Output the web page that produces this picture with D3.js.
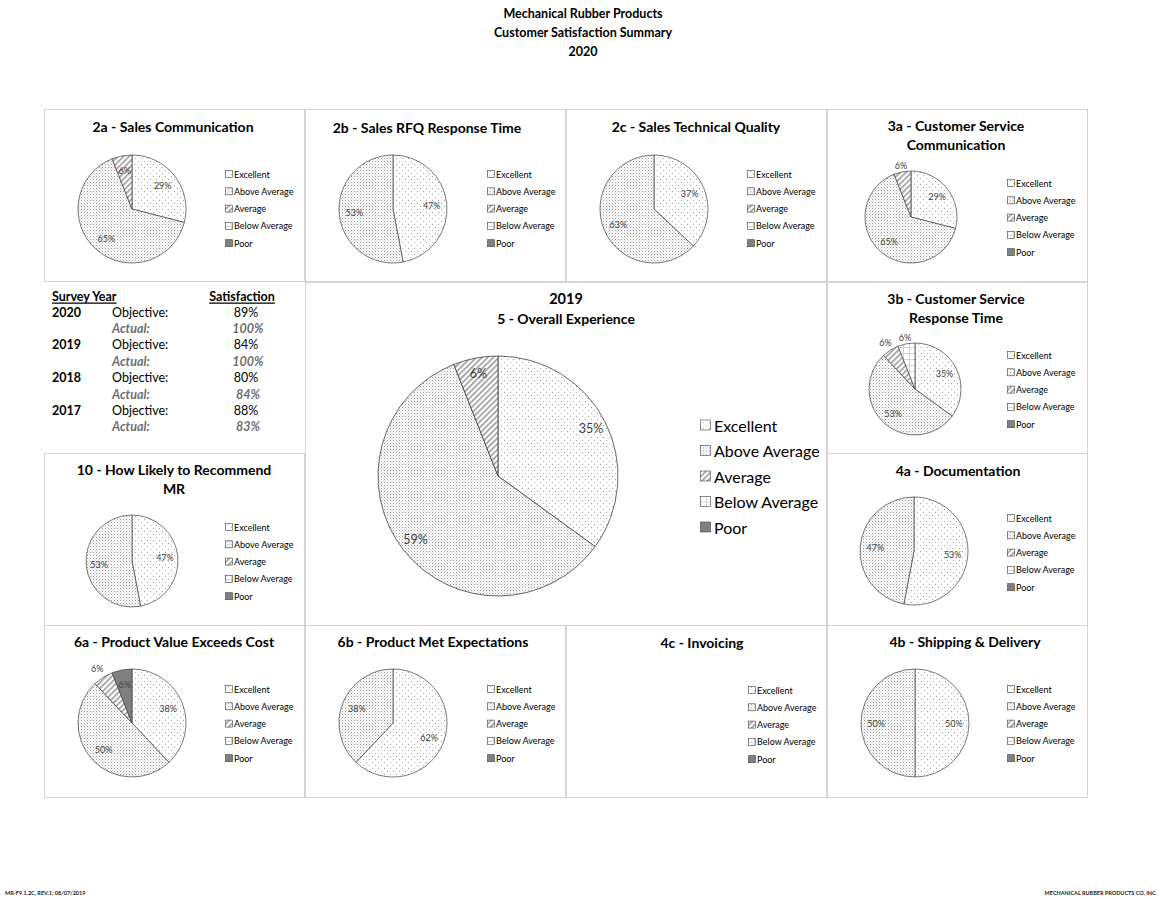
<!DOCTYPE html>
<html><head><meta charset="utf-8">
<script src="https://cdn.jsdelivr.net/npm/d3@7"></script>
<style>
html,body{margin:0;padding:0;background:#fff;}
svg{display:block;font-family:Lato,"Open Sans",sans-serif;}
</style></head>
<body><svg id="c" width="1166" height="899"></svg>
<script>
// ---------- data ----------
const categories = ["Excellent","Above Average","Average","Below Average","Poor"];
const vals2a = [29,65,6,0,0];
const vals2b = [47,53,0,0,0];
const vals2c = [37,63,0,0,0];
const vals3a = [29,65,6,0,0];
const vals3b = [35,53,6,6,0];
const vals4a = [53,47,0,0,0];
const vals10 = [47,53,0,0,0];
const vals5  = [35,59,6,0,0];
const vals6a = [38,50,6,0,6];
const vals6b = [62,38,0,0,0];
const vals4c = [0,0,0,0,0];
const vals4b = [50,50,0,0,0];
const surveyYears = ["2020","2019","2018","2017"];
const objectives = ["89%","84%","80%","88%"];
const actuals = ["100%","100%","84%","83%"];
const mainTitle = ["Mechanical Rubber Products","Customer Satisfaction Summary","2020"];

// ---------- layout ----------
const panels = [
 {id:"2a", vals:vals2a, title:["2a - Sales Communication"], x:44,y:109,w:260,h:172, tx:173, ty:126, cx:132, cy:209, r:54, lx:225, ly:174},
 {id:"2b", vals:vals2b, title:["2b - Sales RFQ Response Time"], x:305,y:109,w:260,h:172, tx:427, ty:127, cx:393, cy:209, r:54, lx:487, ly:174},
 {id:"2c", vals:vals2c, title:["2c - Sales Technical Quality"], x:566,y:109,w:260,h:172, tx:696, ty:126, cx:654, cy:209, r:54, lx:747, ly:174},
 {id:"3a", vals:vals3a, title:["3a - Customer Service","Communication"], x:827,y:109,w:260,h:172, tx:956, ty:125, cx:911, cy:217, r:46, lx:1007, ly:183},
 {id:"3b", vals:vals3b, title:["3b - Customer Service","Response Time"], x:827,y:282,w:260,h:171, tx:956, ty:298, cx:915, cy:389, r:46, lx:1007, ly:355},
 {id:"4a", vals:vals4a, title:["4a - Documentation"], x:827,y:453,w:260,h:172, tx:958, ty:470, cx:914, cy:551, r:54, lx:1007, ly:518},
 {id:"10", vals:vals10, title:["10 - How Likely to Recommend","MR"], x:44,y:453,w:260,h:172, tx:174, ty:469, cx:132, cy:561, r:46, lx:225, ly:527},
 {id:"6a", vals:vals6a, title:["6a - Product Value Exceeds Cost"], x:44,y:625,w:260,h:172, tx:174, ty:641, cx:132, cy:723, r:54, lx:225, ly:689},
 {id:"6b", vals:vals6b, title:["6b - Product Met Expectations"], x:305,y:625,w:260,h:172, tx:433, ty:641, cx:393, cy:723, r:54, lx:487, ly:689},
 {id:"4c", vals:vals4c, title:["4c - Invoicing"], x:566,y:625,w:260,h:172, tx:702, ty:642, cx:654, cy:723, r:54, lx:748, ly:690},
 {id:"4b", vals:vals4b, title:["4b - Shipping & Delivery"], x:827,y:625,w:260,h:172, tx:965, ty:641, cx:915, cy:723, r:54, lx:1007, ly:689}
];
const centerPanel = {id:"5", vals:vals5, title:["2019","5 - Overall Experience"], x:305,y:282,w:521,h:343, tx:566, ty:298, cx:498, cy:476, r:120, lx:700, ly:425};
// label radius factors for slices labelled outside the pie
const outsideLabels = {"3a-Average":1.15, "3b-Average":1.2, "3b-Below Average":1.15, "6a-Average":1.2};

const svg = d3.select("#c");
const defs = svg.append("defs");

// patterns
function pat(id, size, draw, transform){
  const p = defs.append("pattern").attr("id",id).attr("patternUnits","userSpaceOnUse")
    .attr("width",size).attr("height",size);
  if(transform) p.attr("patternTransform",transform);
  p.append("rect").attr("width",size).attr("height",size).attr("fill","#fff");
  draw(p);
}
pat("pExc",6,p=>{
  p.append("rect").attr("x",0).attr("y",0).attr("width",1).attr("height",1).attr("fill","#a8a8a8");
  p.append("rect").attr("x",3).attr("y",3).attr("width",1).attr("height",1).attr("fill","#a8a8a8");
});
pat("pAbove",3,p=>{
  p.append("rect").attr("x",0).attr("y",0).attr("width",1).attr("height",1).attr("fill","#999");
  p.append("rect").attr("x",1.5).attr("y",1.5).attr("width",1).attr("height",1).attr("fill","#b4b4b4");
});
pat("pAvg",4,p=>{
  p.append("rect").attr("x",0).attr("y",0).attr("width",1.6).attr("height",4).attr("fill","#9a9a9a");
},"rotate(45)");
pat("pBelow",6,p=>{
  p.append("rect").attr("x",0).attr("y",0).attr("width",6).attr("height",0.8).attr("fill","#c8c8c8");
  p.append("rect").attr("x",0).attr("y",0).attr("width",0.8).attr("height",6).attr("fill","#c8c8c8");
});
const fills = ["url(#pExc)","url(#pAbove)","url(#pAvg)","url(#pBelow)","#808080"];
const color = d3.scaleOrdinal().domain(categories).range(fills);

// main title
svg.selectAll("text.mt").data(mainTitle).join("text").attr("class","mt")
  .attr("x",583).attr("y",(d,i)=>13+i*19).attr("text-anchor","middle").attr("dominant-baseline","central")
  .attr("font-weight","bold").attr("font-size",12.5).attr("fill","#000").text(d=>d);

function drawPanel(P, big){
  const g = svg.append("g");
  g.append("rect").attr("x",P.x+0.5).attr("y",P.y+0.5).attr("width",P.w).attr("height",P.h)
    .attr("fill","#fff").attr("stroke","#d4d4d4").attr("stroke-width",1);
  const titleSize = big ? [14.5,14] : [14,14];
  g.selectAll("text.t").data(P.title).join("text").attr("class","t")
    .attr("x",P.tx).attr("y",(d,i)=>P.ty+i*(big?20:19)).attr("text-anchor","middle")
    .attr("dominant-baseline","central").attr("font-weight","bold")
    .attr("font-size",(d,i)=>titleSize[i]).attr("fill","#000").text(d=>d);

  const data = categories.map((c,i)=>({cat:c, v:P.vals[i]}));
  const total = d3.sum(data,d=>d.v);
  if(total>0){
    const pie = d3.pie().sort(null).value(d=>d.v);
    const arcs = pie(data);
    const arc = d3.arc().innerRadius(0).outerRadius(P.r);
    const pg = g.append("g").attr("transform",`translate(${P.cx},${P.cy})`);
    pg.selectAll("path").data(arcs.filter(a=>a.data.v>0)).join("path")
      .attr("d",arc).attr("fill",d=>color(d.data.cat))
      .attr("stroke","#404040").attr("stroke-width",big?0.8:0.7).attr("stroke-linejoin","round");
    const baseK = big ? 0.87 : 0.72;
    pg.selectAll("text").data(arcs.filter(a=>a.data.v>0)).join("text")
      .attr("transform",d=>{
        const k = outsideLabels[P.id+"-"+d.data.cat] || baseK;
        const la = d3.arc().innerRadius(P.r*k).outerRadius(P.r*k);
        const c = la.centroid(d);
        return `translate(${c[0]},${c[1]})`;
      })
      .attr("text-anchor","middle").attr("dominant-baseline","central")
      .attr("font-size",big?12.5:9).attr("fill","#404040")
      .text(d=>Math.round(d.data.v/total*100)+"%");
  }
  // legend
  const step = big ? 25.5 : 17.3;
  const sw = big ? 10 : 7;
  const lg = g.append("g");
  const items = lg.selectAll("g").data(categories).join("g")
    .attr("transform",(d,i)=>`translate(${P.lx},${P.ly+i*step})`);
  items.append("rect").attr("x",0.5).attr("y",-sw/2).attr("width",sw).attr("height",sw)
    .attr("fill",d=>color(d)).attr("stroke","#404040").attr("stroke-width",0.6);
  items.append("text").attr("x",sw+(big?4:2)).attr("y",0).attr("dominant-baseline","central")
    .attr("font-size",big?16:9).attr("fill","#000").text(d=>d);
}
panels.forEach(p=>drawPanel(p,false));
drawPanel(centerPanel,true);

// survey table
const tg = svg.append("g").attr("font-size",12.5).attr("fill","#000");
tg.append("text").attr("x",52).attr("y",296).attr("dominant-baseline","central")
  .attr("font-weight","bold").attr("text-decoration","underline").text("Survey Year");
tg.append("text").attr("x",242).attr("y",296).attr("text-anchor","middle").attr("dominant-baseline","central")
  .attr("font-weight","bold").attr("text-decoration","underline").text("Satisfaction");
const rowStep = 16.4;
surveyYears.forEach((yr,i)=>{
  const y1 = 312 + i*2*rowStep, y2 = y1 + rowStep;
  tg.append("text").attr("x",52).attr("y",y1).attr("dominant-baseline","central").attr("font-weight","bold").text(yr);
  tg.append("text").attr("x",112).attr("y",y1).attr("dominant-baseline","central").text("Objective:");
  tg.append("text").attr("x",246).attr("y",y1).attr("text-anchor","middle").attr("dominant-baseline","central").text(objectives[i]);
  tg.append("text").attr("x",112).attr("y",y2).attr("dominant-baseline","central").attr("font-style","italic").attr("font-weight","bold").attr("fill","#6e6e6e").text("Actual:");
  tg.append("text").attr("x",248).attr("y",y2).attr("text-anchor","middle").attr("dominant-baseline","central").attr("font-style","italic").attr("font-weight","bold").attr("fill","#6e6e6e").text(actuals[i]);
});

// footer
svg.append("text").attr("x",5).attr("y",893).attr("dominant-baseline","central").attr("font-size",5.5).attr("font-weight","bold").attr("fill","#222").text("MR-F9.1.2C, REV.1; 08/07/2019");
svg.append("text").attr("x",1157).attr("y",893).attr("text-anchor","end").attr("dominant-baseline","central").attr("font-size",5.5).attr("font-weight","bold").attr("fill","#222").text("MECHANICAL RUBBER PRODUCTS CO, INC.");
</script></body></html>
